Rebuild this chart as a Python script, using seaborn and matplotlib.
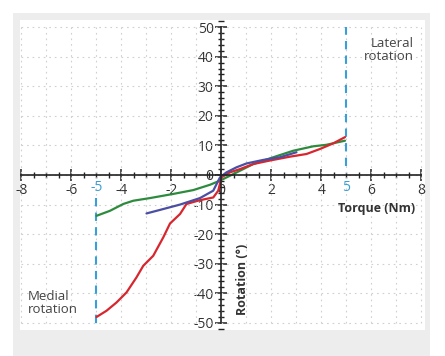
import matplotlib
matplotlib.use("Agg")
import matplotlib.pyplot as plt
import matplotlib.patches as mpatches
from matplotlib.ticker import MultipleLocator
import seaborn as sns
import pandas as pd

# curves: torque (Nm) vs rotation (deg)
green_x = [-4.99, -4.45, -3.92, -3.52, -2.85, -1.92, -1.12, -0.45, -0.05, 0.48, 1.28, 2.08, 2.88, 3.68, 4.2, 4.95]
green_y = [-13.8, -12.1, -9.8, -8.7, -7.8, -6.4, -5.1, -3.3, -1.9, 0.3, 3.7, 6.0, 8.2, 9.7, 10.2, 11.6]

red_x = [-4.99, -4.59, -4.19, -3.79, -3.39, -3.12, -2.72, -2.32, -2.05, -1.65, -1.39, -0.85, -0.32,
         -0.12, 0.01, 0.35, 0.75, 1.28, 1.95, 2.75, 3.41, 3.95, 4.48, 4.95]
red_y = [-48.0, -45.9, -43.1, -39.7, -34.6, -30.7, -27.3, -21.1, -16.4, -13.2, -9.8, -8.5, -7.6,
         -5.3, -0.8, 0.9, 2.0, 3.7, 4.9, 6.2, 7.1, 8.8, 10.7, 12.8]

blue_x = [-2.99, -2.45, -1.65, -0.85, -0.32, -0.05, 0.21, 0.61, 1.01, 1.68, 2.35, 3.01]
blue_y = [-13.0, -11.8, -10.0, -7.8, -5.3, -0.8, 0.9, 2.6, 3.9, 5.1, 6.0, 7.7]

limit_torque = [-5, 5]
x_ticks = [-8, -6, -4, -2, 0, 2, 4, 6, 8]
y_ticks = [-50, -40, -30, -20, -10, 0, 10, 20, 30, 40, 50]

sns.set_style("white")
plt.rcParams['font.family'] = ['Open Sans', 'DejaVu Sans']
plt.rcParams['axes.unicode_minus'] = False

text_col = '#333333'
dash_col = '#3a9fd6'

fig = plt.figure(figsize=(4.45, 3.56), dpi=100)
fig.patch.set_facecolor('white')
# light grey card behind the plot
fig.patches.append(mpatches.Rectangle((13 / 445, 0), (430 - 13) / 445, (356 - 13) / 356,
                                      transform=fig.transFigure, facecolor='#ededed',
                                      edgecolor='none', zorder=-1))
ax = fig.add_axes([20 / 445, (356 - 330) / 356, 405 / 445, 310 / 356])
ax.set_zorder(2)
ax.set_facecolor('white')

df = pd.concat([
    pd.DataFrame({'x': green_x, 'y': green_y, 'curve': 'green'}),
    pd.DataFrame({'x': red_x, 'y': red_y, 'curve': 'red'}),
    pd.DataFrame({'x': blue_x, 'y': blue_y, 'curve': 'blue'}),
])
palette = {'green': '#2e8b3e', 'red': '#d8262e', 'blue': '#4b4ea3'}
sns.lineplot(data=df, x='x', y='y', hue='curve', palette=palette, sort=False,
             estimator=None, linewidth=1.6, legend=False, ax=ax, zorder=3)

# dashed limits at +/-5 Nm
ax.plot([5, 5], [3, 50], color=dash_col, lw=1.5, ls=(0, (4, 3)), zorder=2)
ax.plot([-5, -5], [-50, -7], color=dash_col, lw=1.5, ls=(0, (4, 3)), zorder=2)

ax.set_xlim(-8.05, 8.15)
ax.set_ylim(-52.4, 52.4)

# grid
for gx in range(-8, 9):
    ax.plot([gx, gx], [-50, 50], color='#d0d0d0', lw=0.8, ls=(0, (1.5, 3.5)), zorder=1)
for gy in y_ticks:
    ax.plot([-8, 8], [gy, gy], color='#d0d0d0', lw=0.8, ls=(0, (1.5, 3.5)), zorder=1)

# spines through origin
ax.spines['left'].set_position(('data', 0))
ax.spines['bottom'].set_position(('data', 0))
ax.spines['top'].set_visible(False)
ax.spines['right'].set_visible(False)
ax.spines['left'].set_bounds(-50, 50)
ax.spines['bottom'].set_bounds(-8, 8)
for s in ['left', 'bottom']:
    ax.spines[s].set_color('#222222')
    ax.spines[s].set_linewidth(1.2)
    ax.spines[s].set_zorder(4)

ax.set_xticks(x_ticks)
ax.set_yticks(y_ticks)
ax.xaxis.set_minor_locator(MultipleLocator(0.5))
ax.yaxis.set_minor_locator(MultipleLocator(2))
ax.tick_params(axis='both', which='both', bottom=True, left=True, top=False, right=False)
ax.tick_params(axis='both', which='major', direction='inout', length=9, width=1.1,
               color='#222222', labelsize=10, labelcolor=text_col, pad=1)
ax.tick_params(axis='both', which='minor', direction='inout', length=5, width=1.0, color='#222222')

# highlighted -5 / 5 labels
for t in limit_torque:
    ax.text(t, -1.6, str(t), color=dash_col, fontsize=10, ha='center', va='top', zorder=5)

ax.set_xlabel('')
ax.set_ylabel('')
ax.text(7.75, -11.2, 'Torque (Nm)', fontsize=9, fontweight='bold', color=text_col,
        ha='right', va='center')
ax.text(0.85, -47.3, 'Rotation (°)', fontsize=9, fontweight='bold', color=text_col,
        rotation=90, ha='center', va='bottom')

ax.text(7.7, 46.5, 'Lateral\nrotation', fontsize=9.5, color='#444444', ha='right', va='top',
        linespacing=1.0)
ax.text(-7.75, -38.8, 'Medial\nrotation', fontsize=9.5, color='#444444', ha='left', va='top',
        linespacing=1.0)

fig.savefig('out.png', dpi=100)
